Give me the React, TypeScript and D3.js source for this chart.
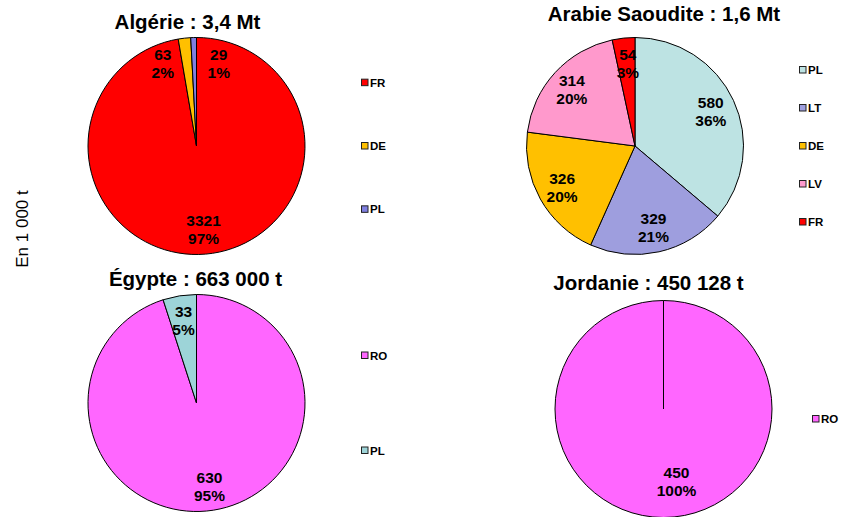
import React from 'react';
import * as d3 from 'd3';

// Algérie
const algerieCats = ['FR', 'DE', 'PL'];
const algerieValues = [3321, 63, 29];
const algerieColors = ['#FF0000', '#FFC000', '#7F7FE0'];

// Arabie Saoudite
const arabieCats = ['PL', 'LT', 'DE', 'LV', 'FR'];
const arabieValues = [580, 329, 326, 314, 54];
const arabieColors = ['#BDE3E3', '#9E9EDE', '#FFC000', '#FF99CC', '#FF0000'];

// Égypte
const egypteCats = ['RO', 'PL'];
const egypteValues = [630, 33];
const egypteColors = ['#FF66FF', '#9DD4D8'];

// Jordanie
const jordanieCats = ['RO'];
const jordanieValues = [450];
const jordanieColors = ['#FF66FF'];

const titles = ['Algérie : 3,4 Mt', 'Arabie Saoudite : 1,6 Mt', 'Égypte : 663 000 t', 'Jordanie : 450 128 t'];
const yLabel = 'En 1 000 t';

const W = 842;
const H = 517;
const R = 108.5;
const FONT = 'Arial, "Liberation Sans", sans-serif';

interface PieProps {
  cats: string[];
  values: number[];
  colors: string[];
  title: string;
  cx: number;
  cy: number;
  titleX: number;
  titleY: number;
  legendX: number;
  legendCy: number;
  fullLabel?: [number, number]; // where Excel puts the label of a 100% pie
}

const pct = d3.format('.0%');

const PieChart: React.FC<PieProps> = ({ cats, values, colors, title, cx, cy, titleX, titleY, legendX, legendCy, fullLabel }) => {
  const total = d3.sum(values);
  const arcs = d3.pie<number>().sort(null).value(d => d)(values);
  const arc = d3.arc<d3.PieArcDatum<number>>().innerRadius(0).outerRadius(R);
  const labelArc = d3.arc<d3.PieArcDatum<number>>().innerRadius(R * 0.77).outerRadius(R * 0.77);

  // label positions, spread apart horizontally when they collide
  const labels = arcs.map(a => {
    const [x, y] = labelArc.centroid(a);
    return { x, y };
  });
  if (arcs.length === 1 && fullLabel) {
    labels[0] = { x: fullLabel[0], y: fullLabel[1] };
  }
  const minGap = 56;
  for (let i = 0; i < labels.length; i++) {
    for (let j = i + 1; j < labels.length; j++) {
      const a = labels[i], b = labels[j];
      if (Math.abs(a.x - b.x) < minGap && Math.abs(a.y - b.y) < 36) {
        const mid = (a.x + b.x) / 2;
        const left = a.x <= b.x ? a : b;
        const right = a.x <= b.x ? b : a;
        left.x = mid - minGap / 2;
        right.x = mid + minGap / 2;
      }
    }
  }

  const n = cats.length;
  const spacing = 190 / n;

  return (
    <g>
      <text x={titleX} y={titleY} textAnchor="middle" fontFamily={FONT} fontWeight="bold" fontSize={20.5} fill="#000">
        {title}
      </text>
      <g transform={`translate(${cx},${cy})`}>
        {arcs.map((a, i) => (
          <path key={i} d={arc(a) || ''} fill={colors[i]} stroke="#000" strokeWidth={1} />
        ))}
        {arcs.length === 1 && <line x1={0} y1={0} x2={0} y2={-R} stroke="#000" strokeWidth={1} />}
        {arcs.map((a, i) => (
          <text key={i} textAnchor="middle" fontFamily={FONT} fontWeight="bold" fontSize={15.5} fill="#000">
            <tspan x={labels[i].x} y={labels[i].y - 3}>{values[i]}</tspan>
            <tspan x={labels[i].x} y={labels[i].y + 15}>{pct(values[i] / total)}</tspan>
          </text>
        ))}
      </g>
      {cats.map((c, i) => {
        const y = legendCy + (i - (n - 1) / 2) * spacing;
        return (
          <g key={c} transform={`translate(${legendX},${y})`}>
            <rect x={0.5} y={-3.5} width={6.5} height={6.5} fill={colors[i]} stroke="#222" strokeWidth={1} />
            <text x={9} y={4} fontFamily={FONT} fontWeight="bold" fontSize={11.5} fill="#000">{c}</text>
          </g>
        );
      })}
    </g>
  );
};

export default function App() {
  return (
    <svg width={W} height={H} style={{ position: 'absolute', left: 0, top: 0, background: '#fff' }}>
      <rect width={W} height={H} fill="#fff" />
      <text
        transform="translate(28,229) rotate(-90)"
        textAnchor="middle"
        fontFamily={FONT}
        fontSize={17}
        fill="#000"
      >
        {yLabel}
      </text>
      <PieChart cats={algerieCats} values={algerieValues} colors={algerieColors} title={titles[0]}
        cx={196.5} cy={146} titleX={187.5} titleY={29} legendX={361} legendCy={146} />
      <PieChart cats={arabieCats} values={arabieValues} colors={arabieColors} title={titles[1]}
        cx={635} cy={146} titleX={664} titleY={20.5} legendX={799} legendCy={146} />
      <PieChart cats={egypteCats} values={egypteValues} colors={egypteColors} title={titles[2]}
        cx={196.5} cy={403} titleX={195.5} titleY={286} legendX={361} legendCy={403} />
      <PieChart cats={jordanieCats} values={jordanieValues} colors={jordanieColors} title={titles[3]}
        cx={663.5} cy={409} titleX={648.5} titleY={290} legendX={812} legendCy={419} fullLabel={[13, 72]} />
    </svg>
  );
}
